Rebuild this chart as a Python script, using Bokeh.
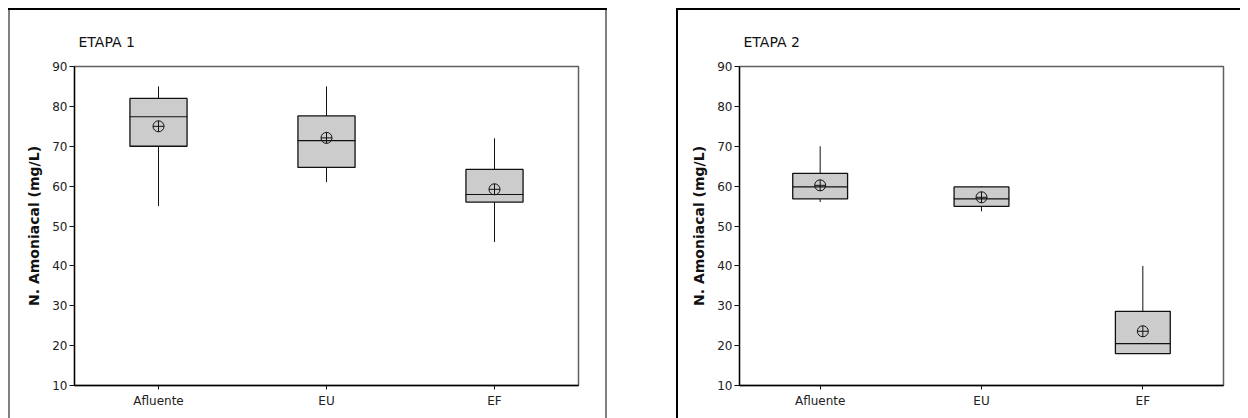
from bokeh.plotting import figure
from bokeh.layouts import row, column
from bokeh.models import Range1d, FixedTicker, Spacer, ColumnDataSource
from bokeh.embed import file_html
from bokeh.resources import INLINE

categories = ["Afluente", "EU", "EF"]

# ETAPA 1
whisker_high_1 = [85.0, 85.0, 72.0]
q3_1 = [82.0, 77.6, 64.2]
median_1 = [77.4, 71.4, 57.9]
mean_1 = [75.0, 72.1, 59.2]
q1_1 = [70.0, 64.7, 56.0]
whisker_low_1 = [55.0, 61.0, 46.0]

# ETAPA 2
whisker_high_2 = [70.0, 60.0, 40.0]
q3_2 = [63.2, 59.8, 28.6]
median_2 = [59.8, 56.8, 20.5]
mean_2 = [60.2, 57.2, 23.6]
q1_2 = [56.8, 54.9, 18.0]
whisker_low_2 = [56.0, 53.7, 18.0]

y_ticks = [10, 20, 30, 40, 50, 60, 70, 80, 90]
titles = ["ETAPA 1", "ETAPA 2"]
y_label = "N. Amoniacal (mg/L)"

FONT = "DejaVu Sans"


def make_panel(title, wh, q3, med, mean, q1, wl, width, mbl, mbr, shadow):
    p = figure(x_range=categories, y_range=Range1d(10, 90),
               width=width, height=410, output_backend="svg", toolbar_location=None,
               min_border_left=mbl, min_border_right=mbr, min_border_top=58, min_border_bottom=33)
    p.border_fill_color = None
    p.background_fill_color = "white"
    p.outline_line_color = "#606060"
    p.outline_line_width = 1.5
    p.xgrid.visible = False
    p.ygrid.visible = False
    p.styles = {"box-shadow": shadow}

    p.title.text = title
    p.title.text_font = FONT
    p.title.text_font_size = "14px"
    p.title.text_font_style = "normal"
    p.title.text_color = "#111111"
    p.title.align = "left"
    p.title.offset = 4
    p.title.standoff = 33

    src = ColumnDataSource(dict(cat=categories, wh=wh, q3=q3, med=med, mean=mean, q1=q1, wl=wl))
    p.segment(x0="cat", y0="q3", x1="cat", y1="wh", source=src, line_color="#111111", line_width=1)
    p.segment(x0="cat", y0="q1", x1="cat", y1="wl", source=src, line_color="#111111", line_width=1)
    p.vbar(x="cat", top="q3", bottom="q1", width=0.34, source=src,
           fill_color="#cccccc", line_color="#111111", line_width=1.3)
    p.rect(x="cat", y="med", width=0.34, height=0.001, source=src,
           fill_color=None, line_color="#111111", line_width=1.2)
    p.scatter(x="cat", y="mean", marker="circle_cross", size=11, source=src,
              fill_color=None, line_color="#111111", line_width=1)

    ya = p.yaxis[0]
    ya.ticker = FixedTicker(ticks=y_ticks)
    ya.minor_tick_line_color = None
    ya.major_tick_out = 5
    ya.major_tick_in = 0
    ya.major_label_standoff = 2
    ya.axis_line_color = "black"
    ya.axis_line_width = 1.3
    ya.major_tick_line_color = "#111111"
    ya.major_label_text_font = FONT
    ya.major_label_text_font_size = "12px"
    ya.major_label_text_color = "#222222"
    ya.axis_label = y_label
    ya.axis_label_text_font = FONT
    ya.axis_label_text_font_size = "14px"
    ya.axis_label_text_font_style = "bold"
    ya.axis_label_text_color = "#111111"
    ya.axis_label_standoff = 7

    xa = p.xaxis[0]
    xa.major_tick_out = 4
    xa.major_tick_in = 0
    xa.major_label_standoff = 4
    xa.axis_line_color = "black"
    xa.axis_line_width = 1.3
    xa.major_tick_line_color = "#111111"
    xa.major_label_text_font = FONT
    xa.major_label_text_font_size = "12px"
    xa.major_label_text_color = "#222222"
    return p


p1 = make_panel(titles[0], whisker_high_1, q3_1, median_1, mean_1, q1_1, whisker_low_1,
                599, 66, 29,
                "inset 0 2px 0 0 #000000, inset 2px 0 0 0 #808080, inset -2px 0 0 0 #808080")
p2 = make_panel(titles[1], whisker_high_2, q3_2, median_2, mean_2, q1_2, whisker_low_2,
                564, 63, 17,
                "inset 0 2px 0 0 #000000, inset 2px 0 0 0 #000000")

layout = column(Spacer(width=10, height=8),
                row(Spacer(width=8, height=10), p1, Spacer(width=69, height=10), p2))

open("out.html", "w").write(file_html(layout, INLINE))
